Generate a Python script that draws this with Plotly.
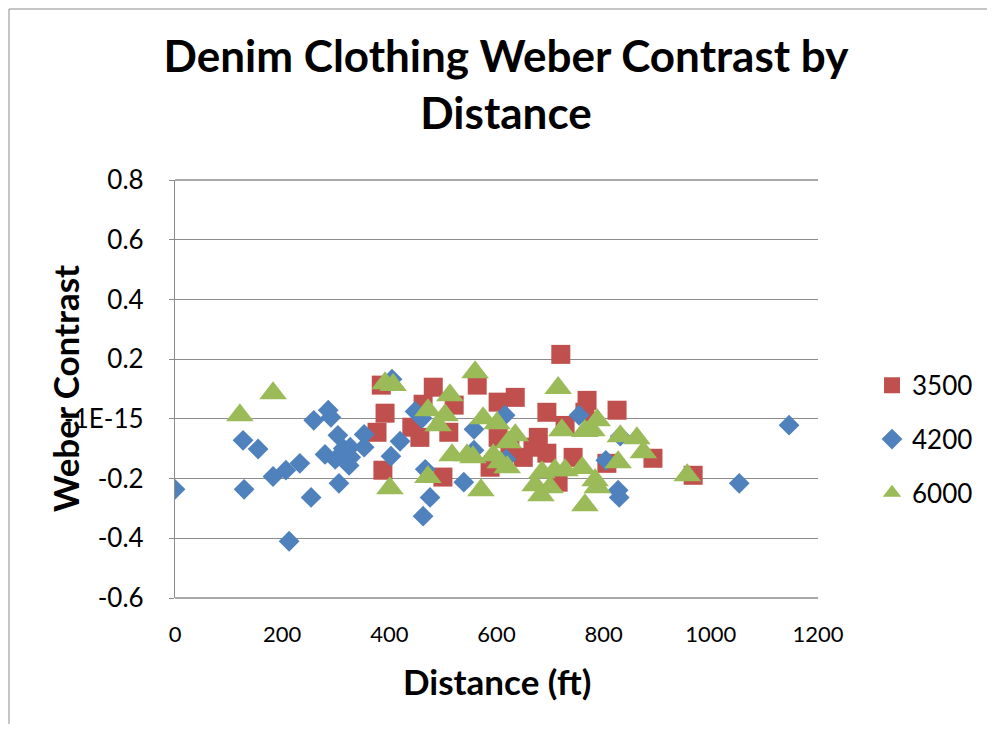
import plotly.graph_objects as go

# ---- data ----
dist_3500 = [385, 482, 564, 392, 463, 521, 377, 442, 457, 511, 388, 500, 603, 635, 694, 720,
             769, 765, 825, 728, 603, 678, 668, 650, 694, 743, 588, 715, 806, 892, 967, 625]
wc_3500 = [0.113, 0.106, 0.113, 0.019, 0.049, 0.046, -0.045, -0.028, -0.062, -0.045, -0.172,
           -0.195, 0.056, 0.072, 0.022, 0.216, 0.062, 0.022, 0.029, -0.022, -0.062, -0.062,
           -0.095, -0.129, -0.115, -0.129, -0.162, -0.212, -0.149, -0.132, -0.189, -0.095]

dist_4200 = [0, 127, 155, 129, 183, 207, 233, 254, 213, 259, 286, 291, 304, 280, 299, 314,
             327, 328, 325, 306, 353, 353, 420, 403, 405, 448, 461, 467, 476, 463, 558, 558,
             539, 616, 618, 754, 804, 831, 827, 829, 1146, 1053]
wc_4200 = [-0.236, -0.072, -0.101, -0.236, -0.193, -0.172, -0.149, -0.263, -0.410, -0.005,
           0.029, 0.005, -0.055, -0.119, -0.136, -0.099, -0.095, -0.129, -0.156, -0.216,
           -0.052, -0.095, -0.075, -0.125, 0.133, 0.025, 0.002, -0.169, -0.263, -0.326,
           -0.035, -0.105, -0.212, 0.012, -0.135, 0.012, -0.139, -0.058, -0.239, -0.263,
           -0.021, -0.216]

dist_6000 = [121, 183, 392, 407, 560, 513, 472, 504, 491, 575, 601, 635, 622, 517, 545, 556,
             594, 607, 620, 401, 472, 571, 715, 722, 765, 778, 788, 831, 862, 874, 827, 956,
             685, 709, 728, 760, 784, 788, 672, 700, 683, 765]
wc_6000 = [0.012, 0.086, 0.119, 0.113, 0.156, 0.079, 0.029, 0.012, -0.021, 0.002, -0.015,
           -0.055, -0.078, -0.122, -0.122, -0.129, -0.122, -0.145, -0.162, -0.232, -0.195,
           -0.239, 0.103, -0.038, -0.041, -0.038, -0.005, -0.058, -0.065, -0.112, -0.145,
           -0.189, -0.179, -0.172, -0.172, -0.165, -0.206, -0.229, -0.222, -0.229, -0.256,
           -0.289]

x_ticks = [0, 200, 400, 600, 800, 1000, 1200]
y_ticks = [-0.6, -0.4, -0.2, 0, 0.2, 0.4, 0.6, 0.8]
y_tick_text = ["-0.6", "-0.4", "-0.2", "-1E-15", "0.2", "0.4", "0.6", "0.8"]

FONT = "Lato"
GRID = "#8c8c8c"

# page has an 8px body margin: figure is drawn 8px right/down of the page corner
W, H = 987, 716
ML, MT, PW, PH = 167, 172, 643, 418

fig = go.Figure()
fig.add_trace(go.Scatter(x=dist_3500, y=wc_3500, mode="markers", name="3500",
                         legendgroup="a",
                         marker=dict(symbol="square", size=19, color="#C0504D")))
fig.add_trace(go.Scatter(x=dist_4200, y=wc_4200, mode="markers", name="4200",
                         legendgroup="b",
                         marker=dict(symbol="diamond", size=16, color="#4F81BD")))
fig.add_trace(go.Scatter(x=dist_6000, y=wc_6000, mode="markers", name="6000",
                         legendgroup="c",
                         marker=dict(symbol="triangle-up", size=24, color="#9BBB59")))

fig.update_layout(
    width=W, height=H,
    margin=dict(l=ML, r=W - ML - PW, t=MT, b=H - MT - PH, autoexpand=False),
    paper_bgcolor="white", plot_bgcolor="white",
    font=dict(family=FONT, color="black"),
    title=dict(text="<b>Denim Clothing Weber Contrast by<br>Distance</b>",
               x=498 / W, xanchor="center", y=1 - 64 / H, yanchor="top",
               font=dict(family=FONT, size=44, color="black")),
    showlegend=True,
    legend=dict(x=1.084, xanchor="left", y=0.565, yanchor="top",
                font=dict(family=FONT, size=26, color="black"),
                tracegroupgap=17, bgcolor="rgba(0,0,0,0)"),
    xaxis=dict(range=[0, 1200], tickvals=x_ticks, showgrid=False, zeroline=False,
               showline=False, ticks="", ticklabelstandoff=21,
               tickfont=dict(family=FONT, size=22, color="black")),
    yaxis=dict(range=[-0.6, 0.8], tickvals=y_ticks, ticktext=y_tick_text,
               showgrid=True, gridcolor=GRID, gridwidth=1.3, zeroline=False,
               showline=True, linecolor=GRID, linewidth=1.3,
               ticks="outside", ticklen=5, tickcolor=GRID, ticklabelstandoff=20,
               tickfont=dict(family=FONT, size=26, color="black")),
    annotations=[
        dict(text="<b>Weber Contrast</b>", xref="paper", yref="paper",
             x=(65 - 175) / PW, y=0.5, xanchor="center", yanchor="middle",
             textangle=-90, showarrow=False,
             font=dict(family=FONT, size=35, color="black")),
        dict(text="<b>Distance (ft)</b>", xref="paper", yref="paper",
             x=0.5, y=(598 - 681) / PH, xanchor="center", yanchor="middle",
             showarrow=False, font=dict(family=FONT, size=35, color="black")),
    ],
    shapes=[
        dict(type="line", xref="paper", yref="paper", x0=0, x1=1, y0=1, y1=1,
             line=dict(color=GRID, width=1.3)),
        dict(type="line", xref="paper", yref="paper", x0=0, x1=1, y0=0, y1=0,
             line=dict(color=GRID, width=1.3)),
        dict(type="rect", xref="paper", yref="paper",
             x0=(9 - 175) / PW, x1=(993 - 175) / PW,
             y0=(598 - 760) / PH, y1=(598 - 9) / PH,
             line=dict(color="#8c8c8c", width=1), fillcolor="rgba(0,0,0,0)",
             layer="below"),
    ],
)

fig.write_html("out.html")
